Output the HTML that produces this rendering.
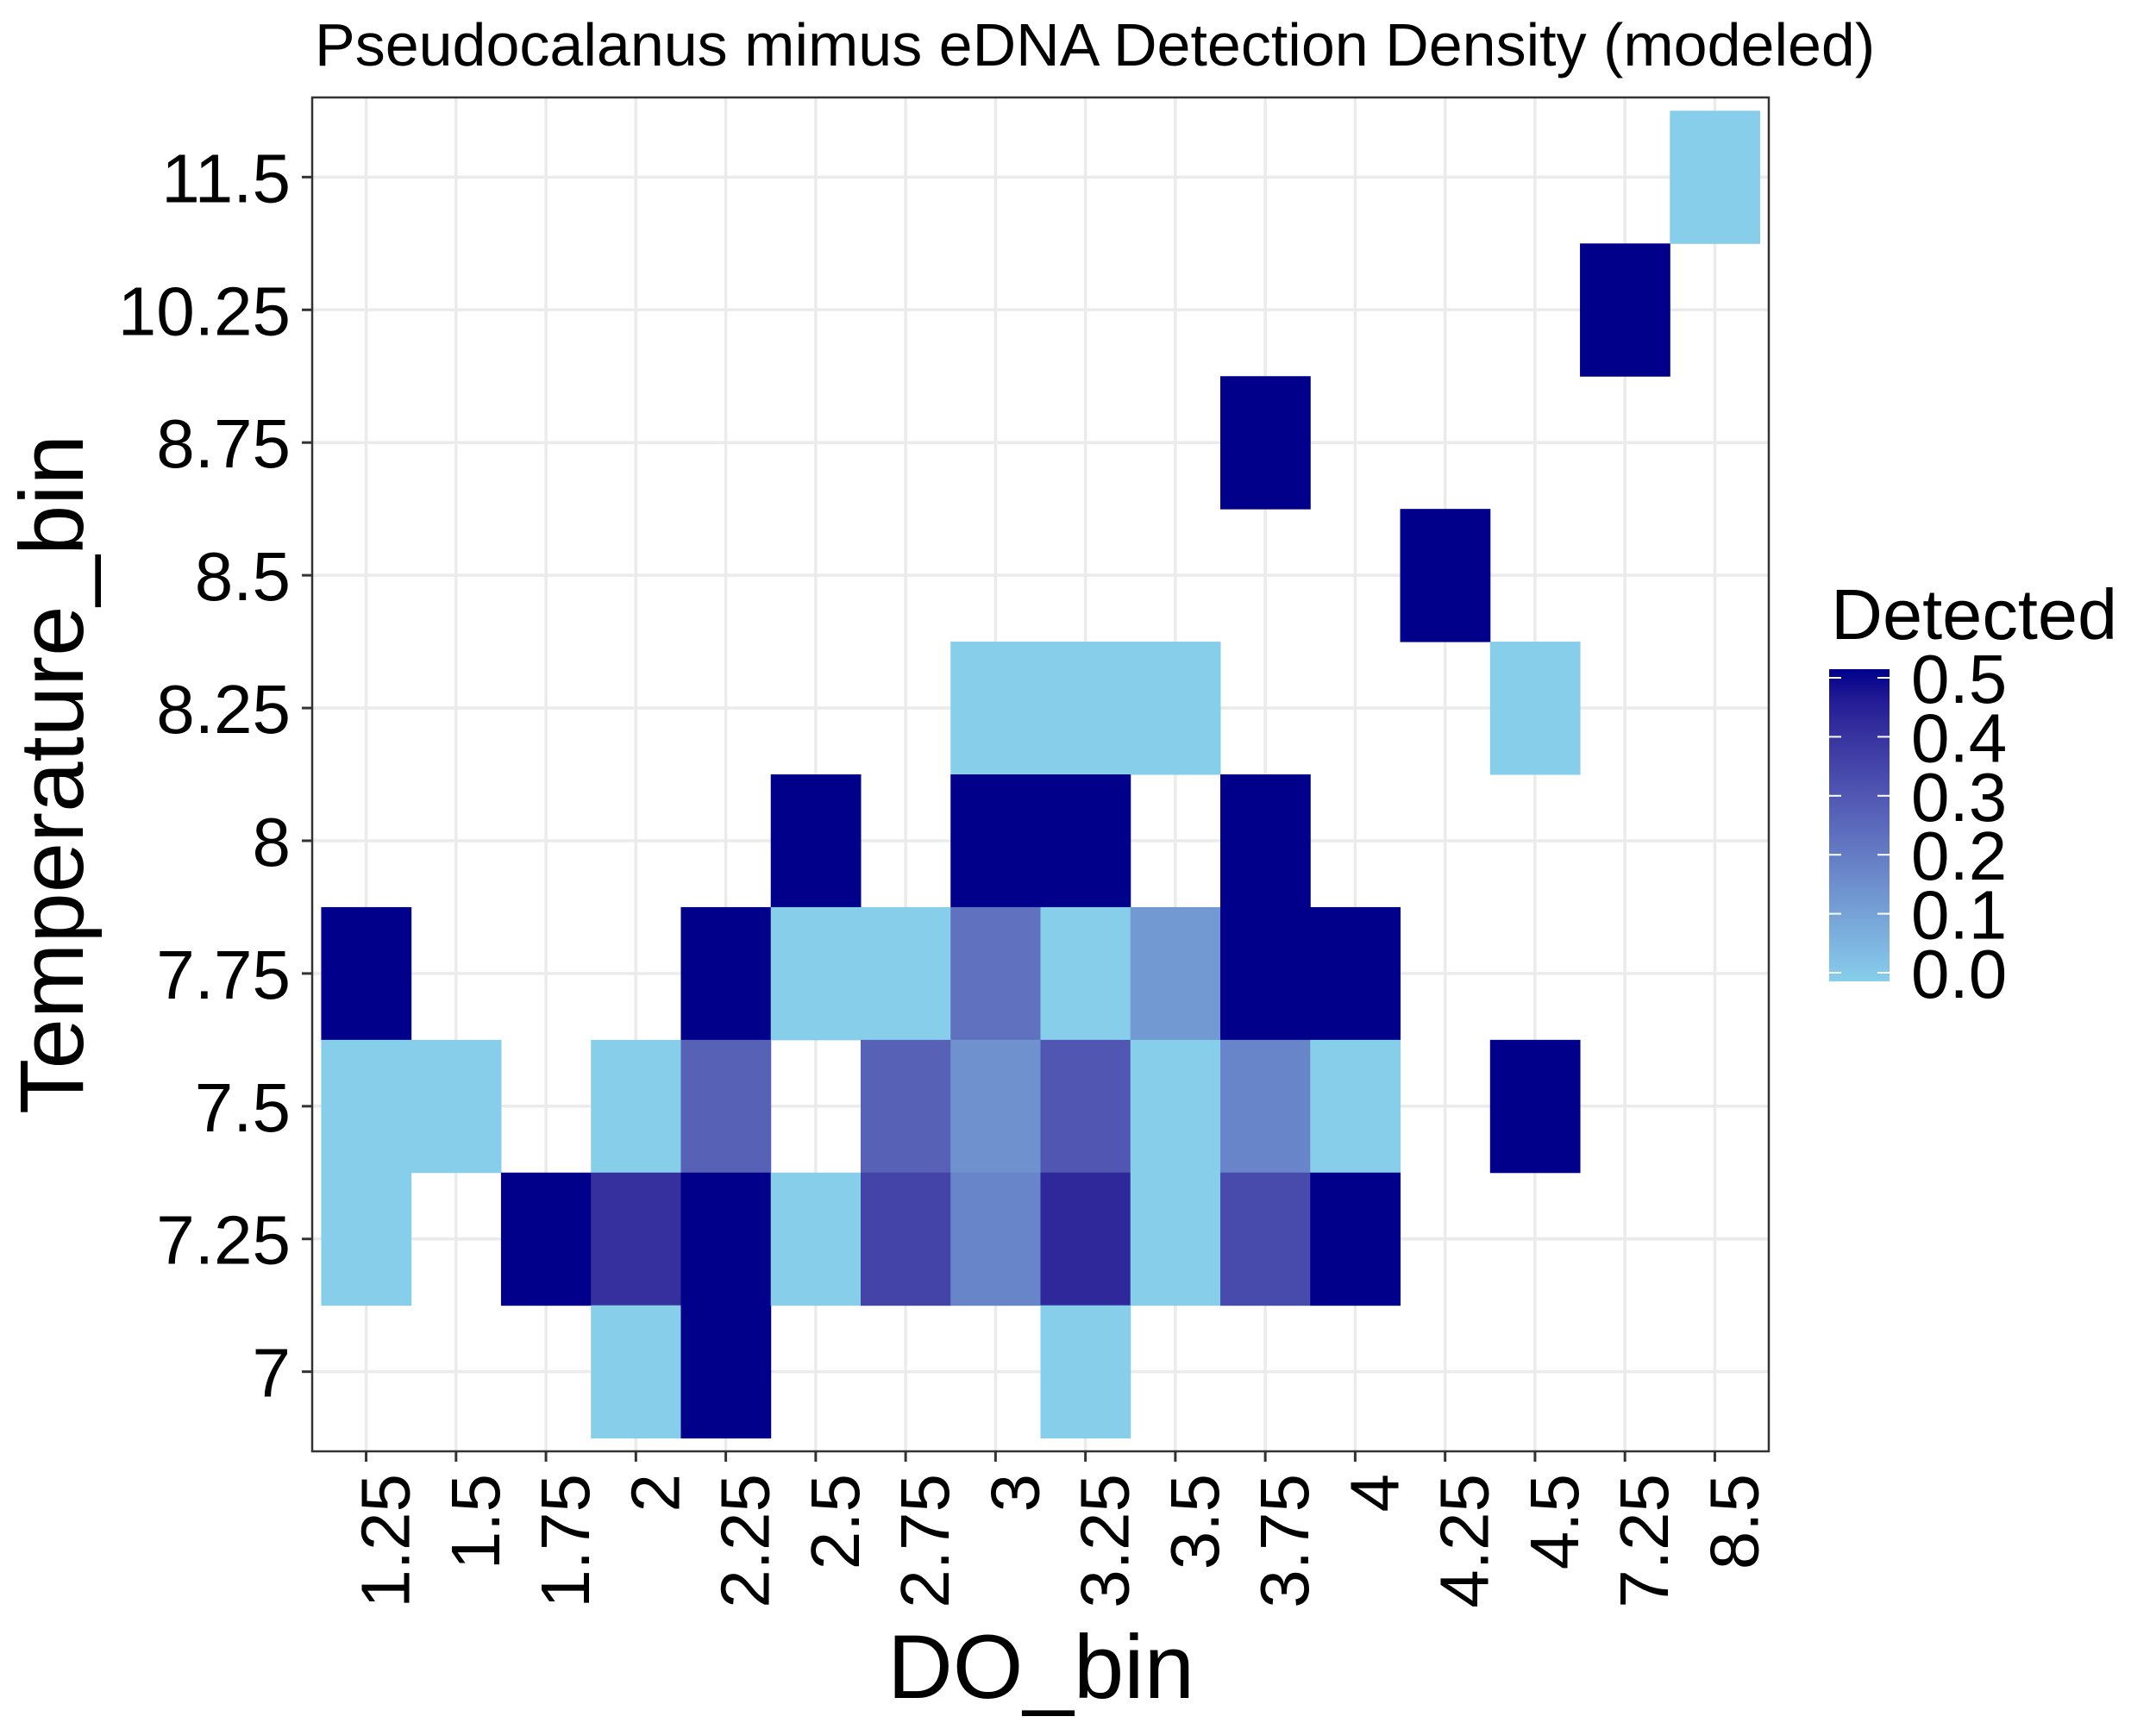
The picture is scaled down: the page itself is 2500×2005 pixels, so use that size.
<!DOCTYPE html>
<html><head><meta charset="utf-8"><style>
html,body{margin:0;padding:0;background:#fff;}
svg text{font-family:"Liberation Sans",sans-serif;fill:#000;}
</style></head><body>
<svg id="chart" width="2500" height="2000" viewBox="0 0 2500 2000" xmlns="http://www.w3.org/2000/svg">
<rect width="2500" height="2000" fill="#fff"/>
<text x="365" y="76" font-size="70">Pseudocalanus mimus eDNA Detection Density (modeled)</text>
<g id="grid"></g>
<g id="cells"></g>
<rect x="362" y="113" width="1689" height="1570" fill="none" stroke="#333" stroke-width="2.5"/>
<g id="axes"></g>
<text x="1207" y="1969" font-size="105" text-anchor="middle">DO_bin</text>
<text transform="translate(96,898) rotate(-90)" font-size="105" text-anchor="middle">Temperature_bin</text>
<g id="legend">
<text x="2123" y="741" font-size="83">Detected</text>
</g>
</svg>
<script>
const xCats = ["1.25","1.5","1.75","2","2.25","2.5","2.75","3","3.25","3.5","3.75","4","4.25","4.5","7.25","8.5"];
const yCats = ["7","7.25","7.5","7.75","8","8.25","8.5","8.75","10.25","11.5"];
const cellX = ["1.25","1.25","1.25","1.5","1.75","2","2","2","2.25","2.25","2.25","2.25","2.5","2.5","2.5","2.75","2.75","2.75","3","3","3","3","3","3.25","3.25","3.25","3.25","3.25","3.25","3.5","3.5","3.5","3.5","3.75","3.75","3.75","3.75","3.75","4","4","4","4.25","4.5","4.5","7.25","8.5"];
const cellY = ["7.75","7.5","7.25","7.5","7.25","7.5","7.25","7","7.75","7.5","7.25","7","8","7.75","7.25","7.75","7.5","7.25","8.25","8","7.75","7.5","7.25","8.25","8","7.75","7.5","7.25","7","8.25","7.75","7.5","7.25","8.75","8","7.75","7.5","7.25","7.75","7.5","7.25","8.5","8.25","7.5","10.25","11.5"];
const cellV = [0.5,0,0,0,0.5,0,0.4,0,0.5,0.27,0.5,0.5,0.5,0,0,0,0.27,0.35,0,0.5,0.23,0.15,0.18,0,0.5,0,0.3,0.42,0,0,0.13,0,0,0.5,0.5,0.5,0.18,0.33,0.5,0,0.5,0.5,0,0.5,0.5,0];
const legendTicks = [0,0.1,0.2,0.3,0.4,0.5];
const legendLabels = ["0.0","0.1","0.2","0.3","0.4","0.5"];

const NS="http://www.w3.org/2000/svg";
const L=362,R=2051,T=113,B=1683;
const xs=(R-L)/(xCats.length-1+1.2), ys=(B-T)/(yCats.length-1+1.2);
function xPos(c){return L+(xCats.indexOf(c)+0.6)*xs;}
function yPos(c){return B-(yCats.indexOf(c)+0.6)*ys;}
function toLin(c){c/=255;return c<=0.04045?c/12.92:Math.pow((c+0.055)/1.055,2.4);}
function fromLin(c){c=c<=0.0031308?12.92*c:1.055*Math.pow(c,1/2.4)-0.055;return Math.round(Math.max(0,Math.min(1,c))*255);}
function f(t){return t>0.008856?Math.cbrt(t):7.787*t+16/116;}
function fi(t){return t>0.206893?t*t*t:(t-16/116)/7.787;}
function rgb2lab(c){const [r,g,b]=c.map(toLin);const X=(0.4124*r+0.3576*g+0.1805*b)/0.95047,Y=0.2126*r+0.7152*g+0.0722*b,Z=(0.0193*r+0.1192*g+0.9505*b)/1.08883;
 return [116*f(Y)-16,500*(f(X)-f(Y)),200*(f(Y)-f(Z))];}
function lab2rgb(l){const fy=(l[0]+16)/116,fx=fy+l[1]/500,fz=fy-l[2]/200;const X=fi(fx)*0.95047,Y=fi(fy),Z=fi(fz)*1.08883;
 const r=3.2406*X-1.5372*Y-0.4986*Z,g=-0.9689*X+1.8758*Y+0.0415*Z,b=0.0557*X-0.2040*Y+1.0570*Z;return [fromLin(r),fromLin(g),fromLin(b)];}
const loL=rgb2lab([135,206,235]), hiL=rgb2lab([0,0,139]);
function col(v){const t=Math.max(0,Math.min(1,v/0.5));const c=lab2rgb(loL.map((a,i)=>a+(hiL[i]-a)*t));return `rgb(${c[0]},${c[1]},${c[2]})`;}
function mk(tag,attrs,parent){const e=document.createElementNS(NS,tag);for(const k in attrs)e.setAttribute(k,attrs[k]);parent.appendChild(e);return e;}
const grid=document.getElementById('grid'),cells=document.getElementById('cells'),axes=document.getElementById('axes'),legend=document.getElementById('legend');
xCats.forEach(c=>{const x=xPos(c);
 const g=mk('line',{x1:x,x2:x,y1:T,y2:B,stroke:'#EBEBEB','stroke-width':3.5},grid);
 
 
 const t=mk('line',{x1:x,x2:x,y1:B,y2:B+12,stroke:'#333','stroke-width':3},axes);
 
 
 const lb=mk('text',{transform:`translate(${x+50},${B+26}) rotate(-90)`,'font-size':80,'text-anchor':'end'},axes);
 lb.textContent=c;
 
 
});
yCats.forEach(c=>{const y=yPos(c);
 const g=mk('line',{x1:L,x2:R,y1:y,y2:y,stroke:'#EBEBEB','stroke-width':3.5},grid);
 
 
 const t=mk('line',{x1:L-12,x2:L,y1:y,y2:y,stroke:'#333','stroke-width':3},axes);
 
 
 const lb=mk('text',{x:337,y:y+29,'font-size':80,'text-anchor':'end'},axes);
 lb.textContent=c;
 
 
});
cellV.forEach((v,i)=>{const x=xPos(cellX[i]),y=yPos(cellY[i]);
 const r=mk('rect',{x:x-xs/2,y:y-ys/2,width:xs+0.5,height:ys+0.5,fill:col(v)},cells);
 
 
});
const cbX=2121,cbW=70,cbTop=786,cbBot=1128;
const defs=mk('defs',{},legend);
const grad=mk('linearGradient',{id:'cb',x1:0,y1:1,x2:0,y2:0},defs);
for(let k=0;k<=10;k++){mk('stop',{offset:String(k/10),"stop-color":col(0.05*k)},grad);}
const bar=mk('rect',{x:cbX,y:cbTop-10,width:cbW,height:cbBot-cbTop+20,fill:'url(#cb)'},legend);


legendTicks.forEach((v,i)=>{const y=cbBot-(v/0.5)*(cbBot-cbTop);
 mk('line',{x1:cbX,x2:cbX+14,y1:y,y2:y,stroke:'#fff','stroke-width':2},legend);
 mk('line',{x1:cbX+cbW-14,x2:cbX+cbW,y1:y,y2:y,stroke:'#fff','stroke-width':2},legend);
 const t=mk('text',{x:2216,y:y+29,'font-size':80},legend);
 t.textContent=legendLabels[i];
 
 
});
</script>
</body></html>
